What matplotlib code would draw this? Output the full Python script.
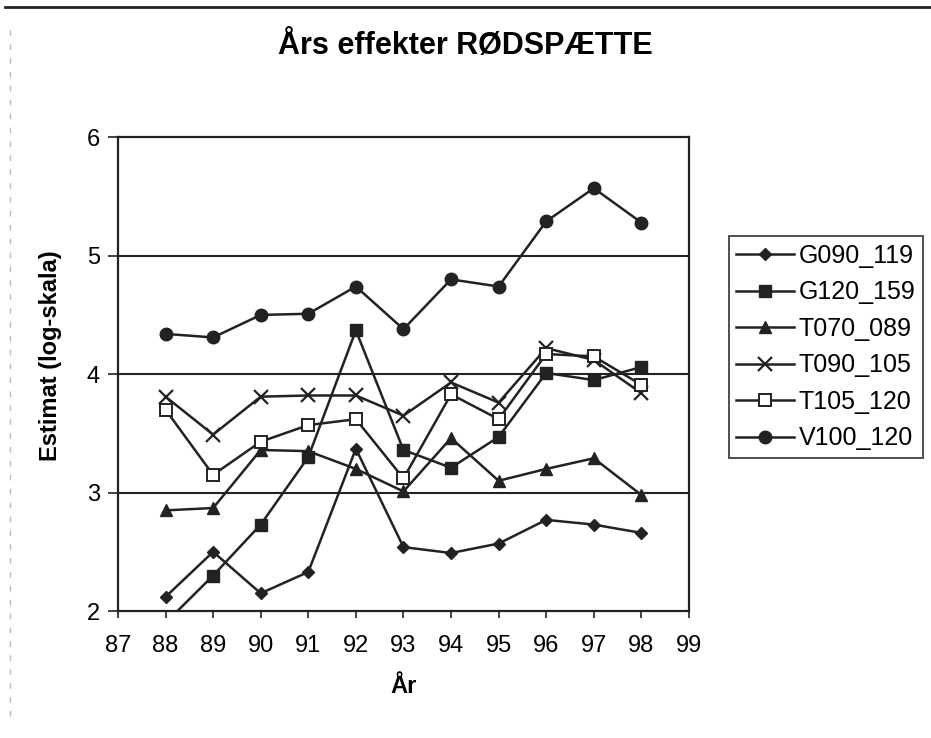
import matplotlib
matplotlib.use("Agg")
import matplotlib.pyplot as plt
from matplotlib.lines import Line2D

years = [88, 89, 90, 91, 92, 93, 94, 95, 96, 97, 98]

G090_119 = [2.12, 2.50, 2.15, 2.33, 3.37, 2.54, 2.49, 2.57, 2.77, 2.73, 2.66]
G120_159 = [1.90, 2.30, 2.73, 3.30, 4.37, 3.36, 3.21, 3.47, 4.01, 3.95, 4.06]
T070_089 = [2.85, 2.87, 3.36, 3.35, 3.20, 3.01, 3.46, 3.10, 3.20, 3.29, 2.98]
T090_105 = [3.81, 3.49, 3.81, 3.82, 3.82, 3.65, 3.93, 3.76, 4.22, 4.12, 3.84]
T105_120 = [3.70, 3.15, 3.43, 3.57, 3.62, 3.12, 3.83, 3.62, 4.17, 4.15, 3.91]
V100_120 = [4.34, 4.31, 4.50, 4.51, 4.74, 4.38, 4.80, 4.74, 5.29, 5.57, 5.28]

series_names = ["G090_119", "G120_159", "T070_089", "T090_105", "T105_120", "V100_120"]
x_ticks = [87, 88, 89, 90, 91, 92, 93, 94, 95, 96, 97, 98, 99]
y_ticks = [2, 3, 4, 5, 6]

ink = "#222222"
plt.rcParams["font.family"] = ["Liberation Sans", "DejaVu Sans"]

fig = plt.figure(figsize=(9.31, 7.38), dpi=100)
ax = fig.add_axes([0.1267, 0.172, 0.6133, 0.642])

styles = [
    dict(marker="D", markersize=6, markerfacecolor=ink, markeredgecolor=ink),
    dict(marker="s", markersize=8, markerfacecolor=ink, markeredgecolor=ink),
    dict(marker="^", markersize=9, markerfacecolor=ink, markeredgecolor=ink),
    dict(marker="x", markersize=10, markeredgewidth=1.6, markeredgecolor=ink),
    dict(marker="s", markersize=8, markerfacecolor="white", markeredgecolor=ink, markeredgewidth=1.4),
    dict(marker="o", markersize=9, markerfacecolor=ink, markeredgecolor=ink),
]
data = [G090_119, G120_159, T070_089, T090_105, T105_120, V100_120]

handles = []
for name, vals, st in zip(series_names, data, styles):
    h, = ax.plot(years, vals, color=ink, linewidth=1.8, label=name, **st)
    handles.append(h)

ax.set_xlim(87, 99)
ax.set_ylim(2, 6)
ax.set_xticks(x_ticks)
ax.set_yticks(y_ticks)
ax.tick_params(axis="x", labelsize=17, colors=ink, labelcolor="black", length=5, width=1.2,
               direction="out", pad=12)
ax.tick_params(axis="y", labelsize=17, colors=ink, labelcolor="black", length=7, width=1.2,
               direction="out", pad=6)
for s in ax.spines.values():
    s.set_linewidth(1.6)
    s.set_color(ink)
for yv in [3, 4, 5]:
    ax.axhline(yv, color=ink, linewidth=1.5, zorder=0)

ax.set_xlabel("År", fontsize=17, fontweight="bold")
ax.xaxis.set_label_coords(0.5, -0.135)
ax.set_ylabel("Estimat (log-skala)", fontsize=17, fontweight="bold")
ax.yaxis.set_label_coords(-0.098, 0.538)
fig.text(0.5, 0.937, "Års effekter RØDSPÆTTE", ha="center", va="center",
         fontsize=22, fontweight="bold")

leg = ax.legend(handles=handles, loc="upper left", bbox_to_anchor=(1.07, 0.791),
                frameon=True, fancybox=False, fontsize=18, handlelength=2.3,
                handletextpad=0.2, labelspacing=0.5, borderpad=0.3, borderaxespad=0)
leg.get_frame().set_edgecolor(ink)
leg.get_frame().set_linewidth(1.4)

# border rules around the page
fig.add_artist(Line2D([0.005, 1.0], [0.99, 0.99], color=ink, linewidth=2.0))
fig.add_artist(Line2D([0.011, 0.011], [0.03, 0.97], color="#bbbbbb", linewidth=1.0,
                      linestyle=(0, (4, 6))))

fig.savefig("out.png", dpi=100)
